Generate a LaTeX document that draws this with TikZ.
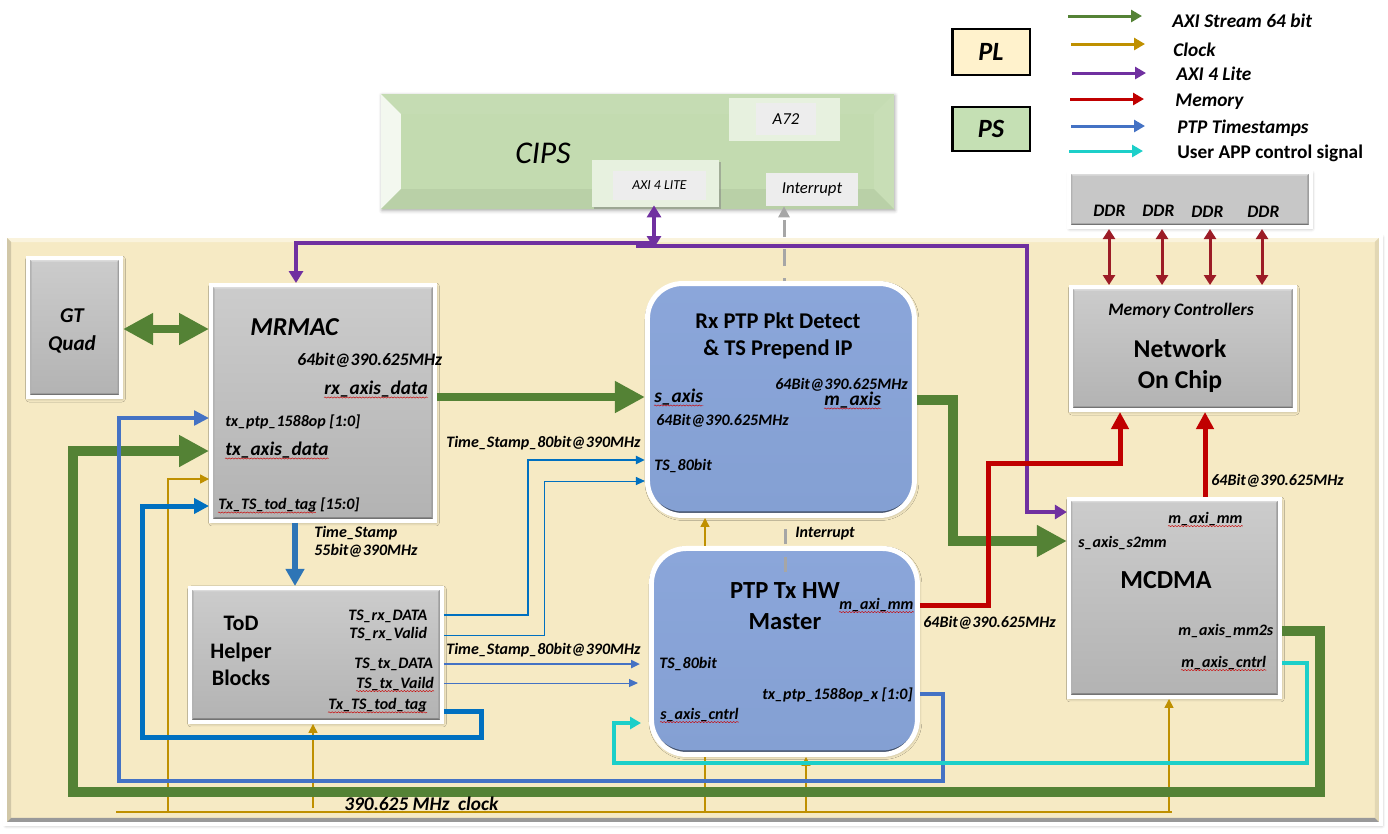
\documentclass[tikz,border=0pt]{standalone}
\usepackage{fontspec}
\setmainfont{Carlito}
\usetikzlibrary{arrows.meta,calc,shadows,shadows.blur,decorations.pathmorphing}

\definecolor{axiGreen}{HTML}{548235}
\definecolor{clkGold}{HTML}{BF9000}
\definecolor{axiPurple}{HTML}{7030A0}
\definecolor{memRed}{HTML}{C00000}
\definecolor{ptpBlue}{HTML}{4472C4}
\definecolor{todBlue}{HTML}{0070C0}
\definecolor{stampBlue}{HTML}{2E75B6}
\definecolor{appCyan}{HTML}{1CCFC9}
\definecolor{ddrRed}{HTML}{9C1C26}
\definecolor{plFill}{HTML}{F6EAC4}
\definecolor{psFill}{HTML}{C3DBB0}
\definecolor{plKeyFill}{HTML}{FFF2CC}
\definecolor{psKeyFill}{HTML}{C5E0B4}
\definecolor{blueTop}{HTML}{8BA6DA}
\definecolor{blueLow}{HTML}{84A0D3}

% bevel: size, then top, left, right and bottom colours
\tikzset{bevel/.style n args={5}{path picture={
  \coordinate (bnw) at (path picture bounding box.north west);
  \coordinate (bne) at (path picture bounding box.north east);
  \coordinate (bsw) at (path picture bounding box.south west);
  \coordinate (bse) at (path picture bounding box.south east);
  \fill[#2] (bnw) -- (bne) -- ($(bne)+(-#1,-#1)$) -- ($(bnw)+(#1,-#1)$) -- cycle;
  \fill[#3] (bnw) -- (bsw) -- ($(bsw)+(#1,#1)$) -- ($(bnw)+(#1,-#1)$) -- cycle;
  \fill[#4] (bne) -- (bse) -- ($(bse)+(-#1,#1)$) -- ($(bne)+(-#1,-#1)$) -- cycle;
  \fill[#5] (bsw) -- (bse) -- ($(bse)+(-#1,#1)$) -- ($(bsw)+(#1,#1)$) -- cycle;
}}}
% rounded box with a dark rim along its lower edge
\tikzset{rim/.style={path picture={
  \fill[blueLow!50!black] (path picture bounding box.south west) rectangle (path picture bounding box.north east);
  \shade[top color=blueTop, bottom color=blueLow, rounded corners=.7cm] ($(path picture bounding box.south west)+(0,.08cm)$) rectangle (path picture bounding box.north east);
}}}

\tikzstyle{softShadow} = [blur shadow={shadow xshift=.02cm, shadow yshift=-.03cm, shadow blur radius=.07cm, shadow blur steps=5, shadow opacity=35}]
\tikzstyle{greyBox} = [rectangle, draw=white, line width=.08cm, top color=black!20, bottom color=black!30, softShadow, bevel={.07cm}{black!14}{black!30}{black!38}{black!55}]
\tikzstyle{blueBox} = [rectangle, rounded corners=.7cm, draw=white, line width=.1cm, fill=blueTop, softShadow, rim]
\tikzstyle{keyBox} = [rectangle, draw=black, line width=.05cm, minimum width=1.55cm]
\tikzstyle{paleBox} = [rectangle, fill=#1, inner sep=0pt]
\tikzstyle{lbl} = [inner sep=0pt, anchor=west, font=\bfseries\itshape\fontsize{9.1}{11}\selectfont]
\tikzstyle{lblMid} = [lbl, font=\bfseries\itshape\fontsize{10}{12}\selectfont]
\tikzstyle{lblBig} = [lbl, font=\bfseries\itshape\fontsize{11}{13}\selectfont]
\tikzstyle{lblTitle} = [inner sep=0pt, align=center, font=\bfseries\fontsize{#1}{#1}\selectfont]
\tikzstyle{squig} = [draw=red!80!black, line width=.25pt, decorate, decoration={snake,segment length=1.8pt,amplitude=.35pt}]

\tikzstyle{greenArrow} = [draw=axiGreen, line width=.2cm, -{Triangle[width=.6cm,length=.6cm]}]
\tikzstyle{goldArrow} = [draw=clkGold, line width=.03cm, -{Triangle[width=.18cm,length=.18cm]}]
\tikzstyle{ptpArrow} = [draw=ptpBlue, line width=.09cm, -{Triangle[width=.29cm,length=.3cm]}]
\tikzstyle{todArrow} = [draw=todBlue, line width=.1cm, -{Triangle[width=.3cm,length=.3cm]}]
\tikzstyle{fineArrow} = [line width=.05cm, -{Triangle[width=.16cm,length=.18cm]}]
\tikzstyle{thinArrow} = [line width=.02cm, -{Triangle[width=.16cm,length=.18cm]}]
\tikzstyle{cyanArrow} = [draw=appCyan, line width=.07cm, -{Triangle[width=.24cm,length=.22cm]}]
\tikzstyle{redArrow} = [draw=memRed, line width=.1cm, -{Triangle[width=.34cm,length=.34cm]}]
\tikzstyle{purpleArrow} = [draw=axiPurple, line width=.09cm, -{Triangle[width=.28cm,length=.24cm]}]
\tikzstyle{ddrArrow} = [draw=ddrRed, line width=.06cm, {Triangle[width=.24cm,length=.2cm]}-{Triangle[width=.24cm,length=.2cm]}]
\tikzstyle{keyArrow} = [line width=.06cm, -{Triangle[width=.24cm,length=.22cm]}]

\begin{document}
\begin{tikzpicture}[x=.02cm,y=-.02cm,node distance=1.2cm]
    \useasboundingbox (0,0) rectangle (1388,833);

    % PL and PS areas
    \node (panel)[rectangle, draw=white, line width=.08cm, fill=plFill, minimum width=27.52cm, minimum height=11.76cm, softShadow, bevel={.12cm}{plFill!60!white}{plFill!85!black}{plFill!92!black}{black!40}] at (693,530) {};
    \node (mrmac)[greyBox, minimum width=4.48cm, minimum height=4.72cm] at (323,403) {};
    \node (gtquad)[greyBox, left of=mrmac, xshift=-3.77cm, yshift=1.51cm, minimum width=1.86cm, minimum height=2.78cm] {};
    \node (rxip)[blueBox, right of=mrmac, xshift=7.96cm, yshift=.07cm, minimum width=5.34cm, minimum height=4.64cm] {};
    \node (ptptx)[blueBox, below of=rxip, xshift=.07cm, yshift=-3.84cm, minimum width=5.32cm, minimum height=4.12cm] {};
    \node (todbox)[greyBox, below of=mrmac, xshift=-.14cm, yshift=-3.84cm, minimum width=5.04cm, minimum height=2.68cm] {};
    \node (mcdma)[greyBox, right of=ptptx, xshift=6.6cm, yshift=1.07cm, minimum width=4.22cm, minimum height=3.96cm] {};
    \node (noc)[greyBox, above of=mcdma, xshift=.17cm, yshift=3.79cm, minimum width=4.48cm, minimum height=2.46cm] {};
    \node (ddrbox)[greyBox, above of=noc, xshift=.14cm, yshift=1.78cm, minimum width=4.84cm, minimum height=1.1cm, top color=black!22, bottom color=black!22] {};
    \node (cips)[rectangle, fill=psFill, above of=rxip, xshift=-2.87cm, yshift=3.76cm, minimum width=10.26cm, minimum height=2.3cm, softShadow, bevel={.4cm}{psFill!96!white}{psFill!20!white}{psFill!92!white}{psFill!95!black}] {};

    % inside CIPS
    \node (a72back)[paleBox=psFill!40!white, minimum width=2.22cm, minimum height=.86cm] at (784.5,119.5) {};
    \node (a72)[paleBox=black!7, minimum width=1.2cm, minimum height=.64cm, font=\itshape\fontsize{9.5}{11}\selectfont] at (786,119) {A72};
    \node (axiback)[paleBox=psFill!40!white, minimum width=2.54cm, minimum height=.94cm, drop shadow={opacity=.5,shadow xshift=.04cm,shadow yshift=-.04cm}] at (655.5,183.5) {};
    \node (axilite)[paleBox=black!7, minimum width=1.86cm, minimum height=.58cm, font=\itshape\fontsize{7.8}{10}\selectfont] at (659.5,185.5) {AXI 4 LITE};
    \node (intr)[paleBox=black!7, minimum width=1.84cm, minimum height=.66cm, font=\itshape\fontsize{9.5}{11}\selectfont] at (812,189.5) {Interrupt};
    \node (cipsTxt)[inner sep=0pt, font=\itshape\fontsize{18}{20}\selectfont] at (543,153) {CIPS};

    % clock
    \coordinate (clkStart) at (116,812);
    \coordinate (clkEnd) at (1172,812);
    \draw [goldArrow, -] (clkStart) -- (clkEnd);
    \draw [goldArrow] (168,812) |- (mrmac.west |- 0,479);
    \draw [goldArrow] (313,808) -- (todbox.south -| 313,0);
    \draw [goldArrow, -] (705,812) -- (ptptx.south -| 705,0);
    \draw [goldArrow] (ptptx.north -| 705,0) -- (rxip.south -| 705,0);
    \draw [goldArrow] (806,812) -- (ptptx.south -| 806,0);
    \draw [goldArrow] (1169,812) -- (mcdma.south -| 1169,0);

    % AXI stream
    \draw [greenArrow, line width=.16cm, {Triangle[width=.6cm,length=.6cm]}-{Triangle[width=.6cm,length=.6cm]}] (gtquad.east |- 0,329) -- (mrmac.west |- 0,329);
    \draw [greenArrow, line width=.16cm] (mrmac.east |- 0,397) -- (rxip.west |- 0,397);
    \draw [greenArrow] (rxip.east |- 0,400) -| (953,541) -- (mcdma.west |- 0,541);
    \draw [greenArrow] (mcdma.east |- 0,631) -| (1320,792) -| (73,451) -- (mrmac.west |- 0,451);

    % timestamps
    \draw [draw=stampBlue, line width=.12cm, -{Triangle[width=.36cm,length=.34cm]}] (mrmac.south -| 295,0) -- (todbox.north -| 295,0);
    \draw [ptpArrow] (ptptx.east |- 0,694) -| (943,781) -| (119,418) -- (mrmac.west |- 0,418);
    \draw [todArrow] (todbox.east |- 0,711) -| (481,737) -| (142,506) -- (mrmac.west |- 0,506);
    \draw [fineArrow, draw=todBlue] (todbox.east |- 0,615) -| (528,460) -- (rxip.west |- 0,460);
    \draw [thinArrow, draw=todBlue] (todbox.east |- 0,635) -| (544,481) -- (rxip.west |- 0,481);
    \coordinate (txDataEnd) at (640,664);
    \coordinate (txValidEnd) at (638,683);
    \draw [fineArrow, draw=ptpBlue] (todbox.east |- 0,664) -- (txDataEnd);
    \draw [thinArrow, draw=ptpBlue] (todbox.east |- 0,683) -- (txValidEnd);

    % user control
    \coordinate (cntrlEnd) at (641,723);
    \draw [cyanArrow] (mcdma.east |- 0,663) -| (1307,763) -| (614,723) -- (cntrlEnd);

    % AXI lite
    \coordinate (axiHubL) at (654,243);
    \coordinate (axiHubR) at (636,246);
    \coordinate (axiFoot) at (654,248);
    \draw [purpleArrow] (axiHubL) -| (mrmac.north -| 296,0);
    \draw [purpleArrow] (axiHubR) -| (1027,512) -- (mcdma.west |- 0,512);
    \draw [purpleArrow, {Triangle[width=.28cm,length=.24cm]}-{Triangle[width=.28cm,length=.24cm]}, shorten <=.1cm] (axilite.south -| 654,0) -- (axiFoot);

    % memory
    \draw [redArrow] (ptptx.east |- 0,605) -| (988,463) -| (noc.south -| 1120,0);
    \draw [redArrow] (mcdma.north -| 1205,0) -- (noc.south -| 1205,0);
    \draw [ddrArrow] (ddrbox.south -| 1109,0) -- (noc.north -| 1109,0);
    \draw [ddrArrow] (ddrbox.south -| 1162,0) -- (noc.north -| 1162,0);
    \draw [ddrArrow] (ddrbox.south -| 1210,0) -- (noc.north -| 1210,0);
    \draw [ddrArrow] (ddrbox.south -| 1262,0) -- (noc.north -| 1262,0);

    % interrupts
    \draw [draw=black!35, line width=.06cm, dash pattern=on .34cm off .24cm, dash phase=.28cm, -{Triangle[width=.22cm,length=.22cm]}] (rxip.north -| 784,0) -- (intr.south -| 784,0);
    \coordinate (intrLow) at (785,572);
    \coordinate (intrHigh) at (785,529);
    \draw [draw=black!35, line width=.06cm, dash pattern=on .3cm off .26cm] (intrLow) -- (intrHigh);

    % GT and MRMAC labels
    \node (gtTxt)[lbl, anchor=center, align=center, font=\bfseries\itshape\fontsize{12}{16}\selectfont] at (72,331) {GT \\ Quad};
    \node (mrmacTxt)[lbl, font=\bfseries\itshape\fontsize{14.7}{17}\selectfont] at (250,327) {MRMAC};
    \node (mrmacRate)[lblMid] at (297,360) {64bit@390.625MHz};
    \node (rxData)[lblBig] at (324,389) {rx\_axis\_data};
    \node (txPtp)[lbl] at (225,422) {tx\_ptp\_1588op [1:0]};
    \node (txData)[lblBig] at (225,450) {tx\_axis\_data};
    \node (todTag)[lbl] at (218,505) {Tx\_TS\_tod\_tag [15:0]};
    \node (stampA)[lbl, align=left, font=\bfseries\itshape\fontsize{9.1}{10.2}\selectfont] at (314,542) {Time\_Stamp \\ 55bit@390MHz};

    % ToD labels
    \node (todTxt)[lblTitle=12, font=\bfseries\fontsize{12.6}{15.6}\selectfont] at (241,651) {ToD \\ Helper \\ Blocks};
    \node (rxDat)[lbl] at (348,616) {TS\_rx\_DATA};
    \node (rxVal)[lbl] at (349,634) {TS\_rx\_Valid};
    \node (txDat)[lbl] at (354,664) {TS\_tx\_DATA};
    \node (txVal)[lbl] at (356,684) {TS\_tx\_Vaild};
    \node (tagOut)[lbl] at (328,705) {Tx\_TS\_tod\_tag};
    \node (stampB)[lbl] at (446,443) {Time\_Stamp\_80bit@390MHz};
    \node (stampC)[lbl] at (446,650) {Time\_Stamp\_80bit@390MHz};

    % Rx labels
    \node (rxTxt)[lblTitle=12.8, font=\bfseries\fontsize{12.8}{15}\selectfont] at (778,336) {Rx PTP Pkt Detect \\ \& TS Prepend IP};
    \node (sAxis)[lblBig] at (654,397) {s\_axis};
    \node (rateR)[lbl] at (775,385) {64Bit@390.625MHz};
    \node (mAxis)[lblBig] at (824,400) {m\_axis};
    \node (rateL)[lbl] at (656,421) {64Bit@390.625MHz};
    \node (tsRx)[lbl] at (654,466) {TS\_80bit};

    % Tx labels
    \node (txTxt)[lblTitle=14, font=\bfseries\fontsize{14}{17.6}\selectfont] at (785,606) {PTP Tx HW \\ Master};
    \node (axiMmA)[lbl] at (839,605) {m\_axi\_mm};
    \node (tsTx)[lbl] at (659,664) {TS\_80bit};
    \node (ptpOut)[lbl] at (762,695) {tx\_ptp\_1588op\_x [1:0]};
    \node (cntrlIn)[lbl] at (660,715) {s\_axis\_cntrl};
    \node (intrTxt)[lbl] at (795,534) {Interrupt};
    \node (rateTx)[lbl] at (923,623) {64Bit@390.625MHz};

    % NoC and MCDMA labels
    \node (memTxt)[lblMid, anchor=center] at (1181,311) {Memory Controllers};
    \node (nocTxt)[lblTitle=14.6, font=\bfseries\fontsize{14.6}{17.6}\selectfont] at (1180,366) {Network \\ On Chip};
    \node (rateDma)[lbl] at (1211,481) {64Bit@390.625MHz};
    \node (dmaTxt)[lblTitle=14.8] at (1166,580) {MCDMA};
    \node (axiMmB)[lbl] at (1168,519) {m\_axi\_mm};
    \node (s2mm)[lbl] at (1078,543) {s\_axis\_s2mm};
    \node (mm2s)[lbl] at (1178,631) {m\_axis\_mm2s};
    \node (cntrlOut)[lbl] at (1181,663) {m\_axis\_cntrl};

    % DDR labels
    \node (ddrA)[lblMid] at (1093,211) {DDR};
    \node (ddrB)[lblMid] at (1142,211) {DDR};
    \node (ddrC)[lblMid] at (1191,212) {DDR};
    \node (ddrD)[lblMid] at (1247,212) {DDR};

    \node (clkTxt)[lblBig] at (344,804) {390.625 MHz\ \ clock};

    % spell check marks
    \foreach \name in {rxData,txData,txVal,tagOut,sAxis,mAxis,axiMmA,axiMmB,cntrlIn,cntrlOut}
        \draw [squig] (\name.south west) -- (\name.south east);
    \draw [squig] (todTag.south west) -- ++(1.96cm,0);

    % legend
    \node (plKey)[keyBox, fill=plKeyFill, minimum height=.92cm, font=\bfseries\itshape\fontsize{15}{17}\selectfont] at (991,52) {PL};
    \node (psKey)[keyBox, fill=psKeyFill, minimum height=.88cm, font=\bfseries\itshape\fontsize{15}{17}\selectfont] at (991,129) {PS};

    \coordinate (keyA) at (1068,16);  \coordinate (keyAend) at (1142,16);
    \coordinate (keyB) at (1071,44);  \coordinate (keyBend) at (1145,44);
    \coordinate (keyC) at (1072,73);  \coordinate (keyCend) at (1146,73);
    \coordinate (keyD) at (1070,99);  \coordinate (keyDend) at (1144,99);
    \coordinate (keyE) at (1071,126); \coordinate (keyEend) at (1145,126);
    \coordinate (keyF) at (1069,151); \coordinate (keyFend) at (1143,151);
    \draw [keyArrow, draw=axiGreen] (keyA) -- (keyAend);
    \draw [keyArrow, draw=clkGold] (keyB) -- (keyBend);
    \draw [keyArrow, draw=axiPurple] (keyC) -- (keyCend);
    \draw [keyArrow, draw=memRed] (keyD) -- (keyDend);
    \draw [keyArrow, draw=ptpBlue] (keyE) -- (keyEend);
    \draw [keyArrow, draw=appCyan] (keyF) -- (keyFend);

    \node (keyTxtA)[lblBig] at (1172,21) {AXI Stream 64 bit};
    \node (keyTxtB)[lblBig] at (1173,50) {Clock};
    \node (keyTxtC)[lblBig] at (1176,74) {AXI 4 Lite};
    \node (keyTxtD)[lblBig] at (1175,102) {Memory};
    \node (keyTxtE)[lblBig] at (1177,128) {PTP Timestamps};
    \node (keyTxtF)[lblBig, font=\bfseries\fontsize{11}{13}\selectfont] at (1177,153) {User APP control signal};
\end{tikzpicture}
\end{document}
